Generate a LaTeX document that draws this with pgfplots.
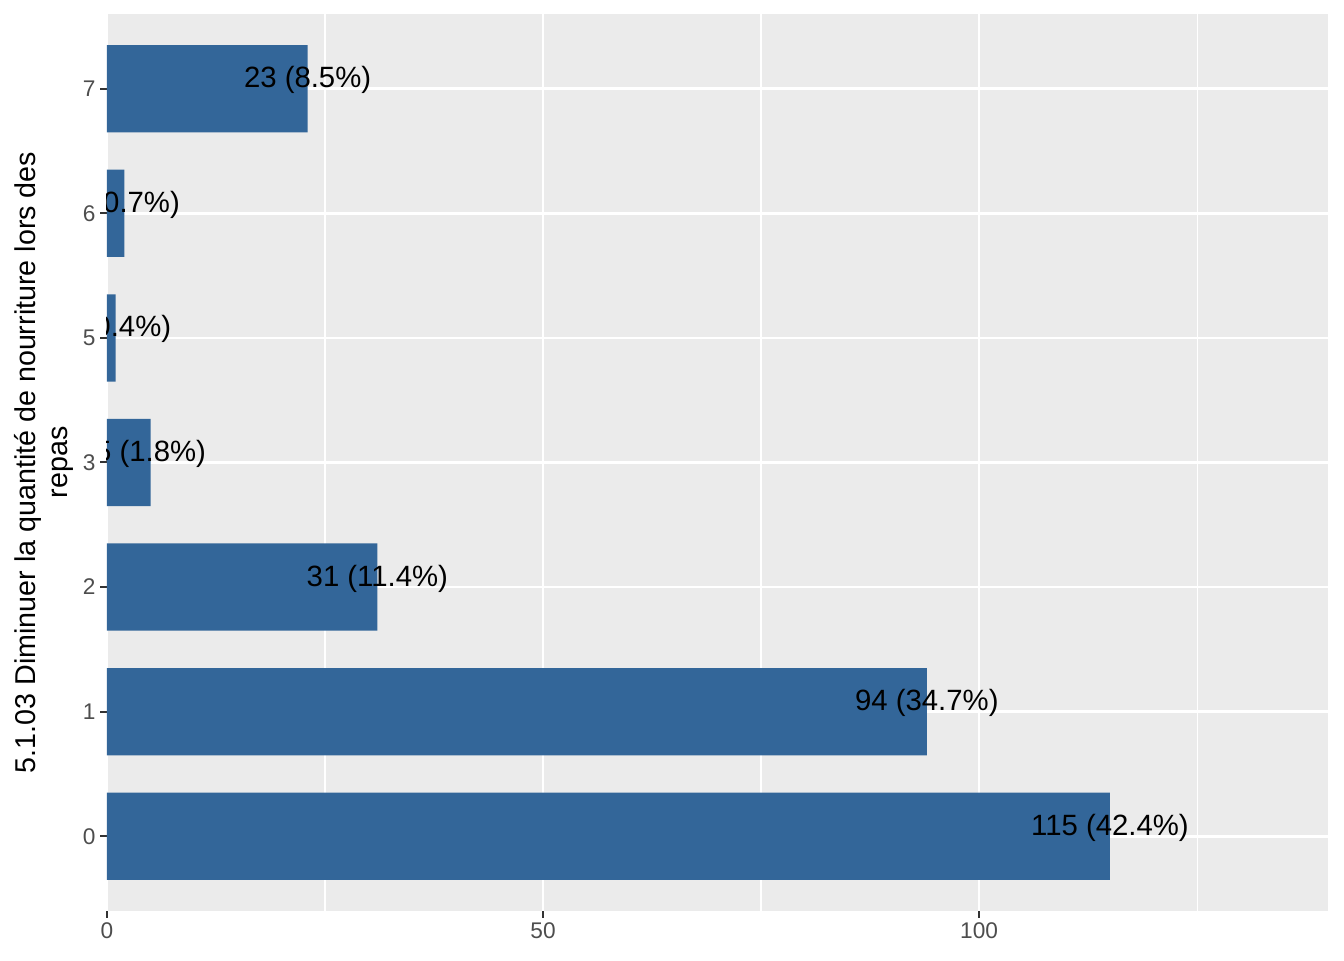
\documentclass[border=0pt]{standalone}
\usepackage{fontspec}
\setmainfont{Liberation Sans}
\usepackage{pgfplots}
\usepackage{pgfplotstable}
\pgfplotsset{compat=1.18}

\definecolor{panel}{HTML}{EBEBEB}
\definecolor{barfill}{HTML}{336699}
\definecolor{ticktext}{HTML}{4D4D4D}
\definecolor{tickline}{HTML}{333333}

% counts per answer (positions 0..6 -> categories 0,1,2,3,5,6,7)
\pgfplotstableread[col sep=comma]{
pos,val,lab
0,115,115 (42.4\%)
1,94,94 (34.7\%)
2,31,31 (11.4\%)
3,5,5 (1.8\%)
4,1,1 (0.4\%)
5,2,2 (0.7\%)
6,23,23 (8.5\%)
}\freq

\begin{document}
\begin{tikzpicture}
  \begin{axis}[
      at={(0,0)}, anchor=south west,
      scale only axis,
      width=915.75pt, height=672.75pt,
      xmin=0, xmax=140,
      ymin=-0.6, ymax=6.6,
      xtick={0,50,100},
      minor xtick={25,75,125},
      ytick={0,1,2,3,4,5,6},
      yticklabels={0,1,2,3,5,6,7},
      xmajorgrids, xminorgrids, ymajorgrids,
      major grid style={white, line width=2pt},
      minor grid style={white, line width=1pt},
      axis background/.style={fill=panel},
      axis line style={draw=none},
      xtick pos=bottom, ytick pos=left,
      tick align=outside,
      major tick length=5.2pt, minor tick length=0pt,
      tick style={tickline, line width=1.5pt},
      tick label style={font=\fontsize{17}{19}\selectfont, text=ticktext},
      /pgf/number format/assume math mode=true,
      ylabel={5.1.03 Diminuer la quantité de nourriture lors des\\repas},
      ylabel style={align=center, font=\fontsize{21.5}{24}\selectfont,
                    at={(axis description cs:-0.0516,0.5)}, anchor=center},
      clip marker paths=true,
    ]
    \addplot[xbar, bar width=0.7, fill=barfill, draw=none,
             point meta=explicit symbolic, nodes near coords,
             nodes near coords style={anchor=center, yshift=6.5pt, inner sep=0pt,
                                      font=\fontsize{22}{24}\selectfont, text=black}]
      table[x=val, y=pos, meta=lab] {\freq};
  \end{axis}
  \pgfresetboundingbox
  \path[use as bounding box] (-80.25pt,-36.75pt) rectangle (927.75pt,683.25pt);
\end{tikzpicture}
\end{document}
